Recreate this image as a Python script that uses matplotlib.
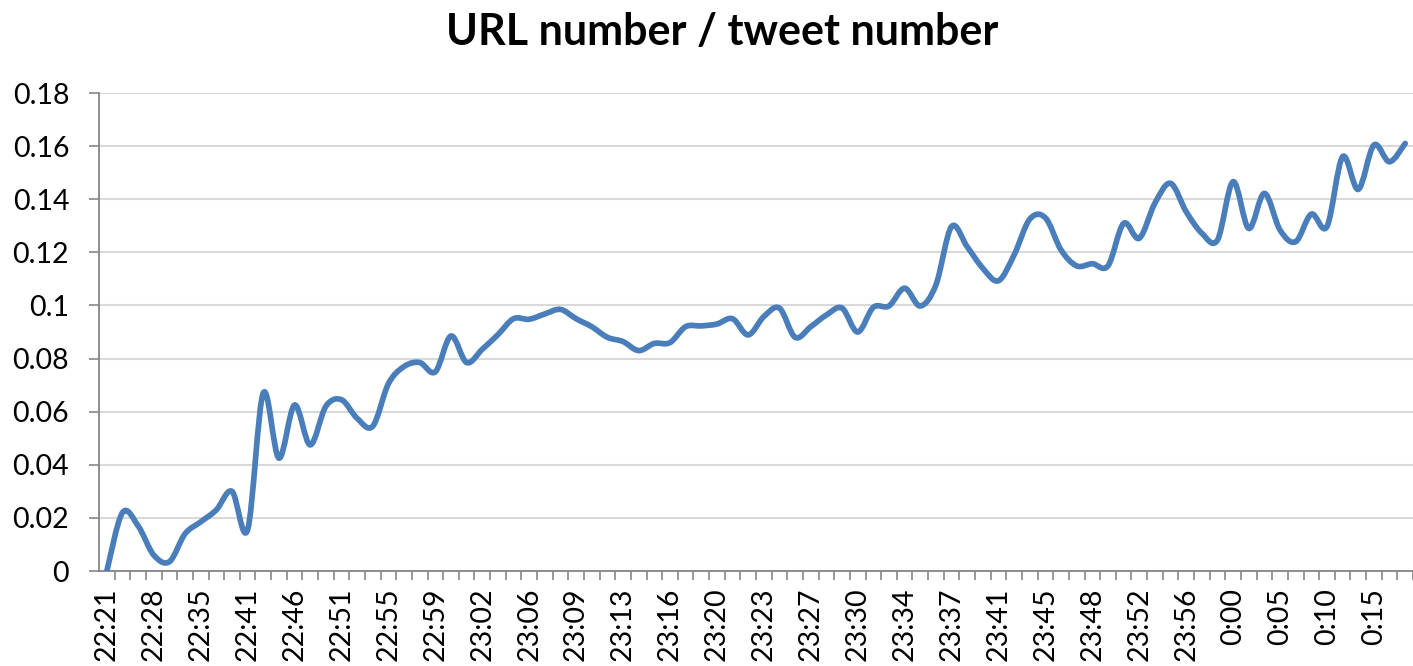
import numpy as np
import matplotlib.pyplot as plt
from matplotlib.path import Path
from matplotlib.patches import PathPatch

# category labels (every 3rd minute bucket is labelled on the axis)
time_labels = ['22:21', '22:28', '22:35', '22:41', '22:46', '22:51', '22:55',
               '22:59', '23:02', '23:06', '23:09', '23:13', '23:16', '23:20',
               '23:23', '23:27', '23:30', '23:34', '23:37', '23:41', '23:45',
               '23:48', '23:52', '23:56', '0:00', '0:05', '0:10', '0:15']
label_step = 3

# URL count / tweet count per bucket
ratio = [0.000, 0.022, 0.017, 0.006, 0.0035, 0.014, 0.0185, 0.023, 0.030, 0.0155,
         0.067, 0.0425, 0.0625, 0.0475, 0.062, 0.0645, 0.0575, 0.0545, 0.0705, 0.077,
         0.0785, 0.075, 0.0885, 0.0785, 0.0835, 0.089, 0.095, 0.0948, 0.0968, 0.0985,
         0.095, 0.092, 0.088, 0.0864, 0.083, 0.0857, 0.086, 0.092, 0.0923, 0.093,
         0.095, 0.0889, 0.0958, 0.099, 0.088, 0.092, 0.0964, 0.099, 0.090, 0.0993,
         0.0998, 0.1065, 0.0998, 0.1077, 0.1297, 0.1221, 0.114, 0.1093, 0.119, 0.1325,
         0.133, 0.1209, 0.1149, 0.1157, 0.1149, 0.1309, 0.1253, 0.1385, 0.146, 0.1353,
         0.1272, 0.1246, 0.1466, 0.129, 0.1422, 0.1284, 0.124, 0.1344, 0.1297, 0.156,
         0.1437, 0.1604, 0.1541, 0.161]

y_ticks = [0, 0.02, 0.04, 0.06, 0.08, 0.1, 0.12, 0.14, 0.16, 0.18]
y_labels = ['0', '0.02', '0.04', '0.06', '0.08', '0.1', '0.12', '0.14', '0.16', '0.18']

plt.rcParams['font.family'] = ['Lato', 'DejaVu Sans']

fig = plt.figure(figsize=(14.13, 6.66), dpi=100)
ax = fig.add_axes([99 / 1413, 95 / 666, 1314 / 1413, 478 / 666])

x = np.arange(len(ratio), dtype=float)
y = np.array(ratio)

# excel style smoothed line -> cubic bezier segments through every point
xp = np.concatenate([[x[0]], x, [x[-1]]])
yp = np.concatenate([[y[0]], y, [y[-1]]])
verts = [(x[0], y[0])]
codes = [Path.MOVETO]
for i in range(len(x) - 1):
    p0 = np.array([xp[i], yp[i]])
    p1 = np.array([xp[i + 1], yp[i + 1]])
    p2 = np.array([xp[i + 2], yp[i + 2]])
    p3 = np.array([xp[i + 3], yp[i + 3]])
    c1 = p1 + (p2 - p0) / 6
    c2 = p2 - (p3 - p1) / 6
    verts += [tuple(c1), tuple(c2), tuple(p2)]
    codes += [Path.CURVE4] * 3
line = PathPatch(Path(verts, codes), facecolor='none', edgecolor='#4A7EBB',
                 lw=4.1, capstyle='round', joinstyle='round', zorder=3)
ax.add_patch(line)

ax.set_xlim(-0.5, 82.97)
ax.set_ylim(0, 0.18)

ax.set_yticks(y_ticks)
ax.set_yticklabels(y_labels)
ax.tick_params(axis='y', length=7.5, width=1.2, color='#868686', pad=14, labelsize=20.5)

ax.set_xticks(x[::label_step][:len(time_labels)])
ax.set_xticklabels(time_labels, rotation=90)
ax.set_xticks(np.arange(0.5, len(ratio), 1), minor=True)
ax.tick_params(axis='x', which='major', length=0, pad=12, labelsize=20.5)
ax.tick_params(axis='x', which='minor', length=6.5, width=1.2, color='#868686')

ax.yaxis.grid(True, color='#D9D9D9', lw=1.5)
ax.set_axisbelow(True)
for s in ['top', 'right']:
    ax.spines[s].set_visible(False)
for s in ['left', 'bottom']:
    ax.spines[s].set_color('#868686')
    ax.spines[s].set_linewidth(1.3)

fig.text(722 / 1413, 1 - 32 / 666, 'URL number / tweet number', ha='center', va='center',
         fontsize=31, fontweight='bold')

plt.savefig('out.png', dpi=100)
plt.close()
